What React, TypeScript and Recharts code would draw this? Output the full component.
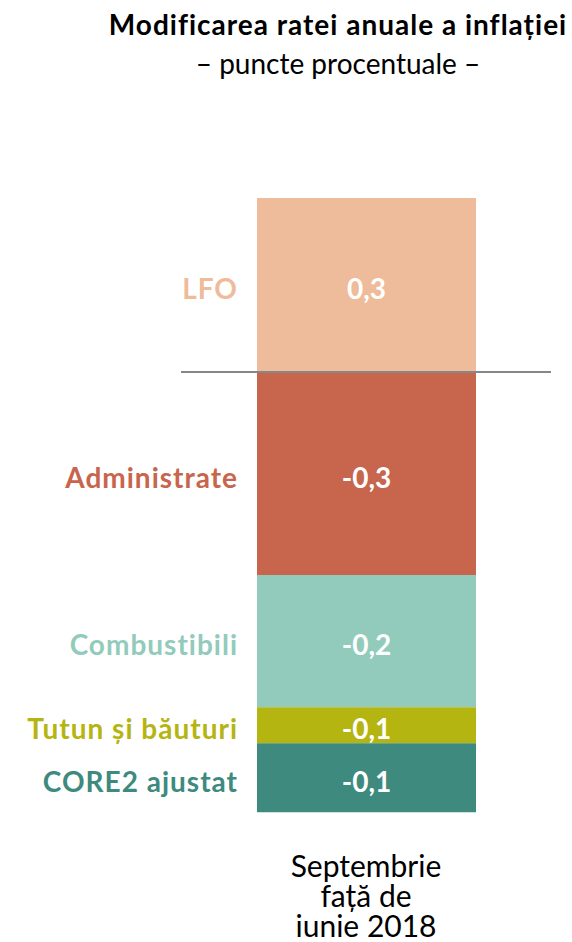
import { Bar, BarChart, LabelList, ReferenceLine, XAxis, YAxis } from "recharts";

const categories = ["Septembrie|față de|iunie 2018"];
const seriesNames = ["LFO", "Administrate", "Combustibili", "Tutun și băuturi", "CORE2 ajustat"];
const seriesValues = [0.3, -0.35, -0.228, -0.062, -0.119];
const valueLabels = ["0,3", "-0,3", "-0,2", "-0,1", "-0,1"];
const seriesColors = ["#EEBC9A", "#C8654D", "#92CBBB", "#B5B512", "#3E8A7E"];

const FONT = "Lato, 'Open Sans', sans-serif";

const data = categories.map((c) => {
  const row: Record<string, string | number> = { name: c };
  seriesNames.forEach((s, i) => {
    row[s] = seriesValues[i];
  });
  return row;
});

const CategoryTick = (props: any) => {
  const { x, y, payload } = props;
  const lines = String(payload.value).split("|");
  return (
    <text x={x} y={y} textAnchor="middle" fill="#000" fontFamily={FONT} fontSize={30}>
      {lines.map((l, i) => (
        <tspan key={i} x={x} dy={i === 0 ? 33 : 30}>
          {l}
        </tspan>
      ))}
    </text>
  );
};

const makeLabel = (i: number) => (props: any) => {
  const { x, y, width, height } = props;
  const cy = y + height / 2 + 14;
  return (
    <g>
      <text x={x + width / 2} y={cy} textAnchor="middle" fill="#fff" fontFamily={FONT} fontWeight={700} fontSize={28}>
        {valueLabels[i]}
      </text>
      <text
        x={x - 19}
        y={cy}
        textAnchor="end"
        fill={seriesColors[i]}
        fontFamily={FONT}
        fontWeight={700}
        fontSize={28}
        letterSpacing={1}
      >
        {seriesNames[i]}
      </text>
    </g>
  );
};

const App = () => {
  return (
    <div style={{ position: "relative", width: 572, height: 942, background: "#fff", fontFamily: FONT, overflow: "hidden" }}>
      <style>{`body{margin:0}`}</style>
      <div
        style={{
          position: "absolute",
          left: 338,
          top: 10,
          transform: "translateX(-50%)",
          whiteSpace: "nowrap",
          fontSize: 28,
          lineHeight: "28px",
          fontWeight: 700,
          letterSpacing: 1,
          color: "#000",
        }}
      >
        Modificarea ratei anuale a inflației
      </div>
      <div
        style={{
          position: "absolute",
          left: 338,
          top: 49,
          transform: "translateX(-50%)",
          whiteSpace: "nowrap",
          fontSize: 28,
          lineHeight: "28px",
          color: "#000",
        }}
      >
        – puncte procentuale –
      </div>
      <BarChart
        width={572}
        height={942}
        data={data}
        stackOffset="sign"
        margin={{ top: 140, right: 21, bottom: 0, left: 181 }}
      >
        <XAxis
          dataKey="name"
          axisLine={false}
          tickLine={false}
          height={106}
          interval={0}
          tick={<CategoryTick />}
        />
        <YAxis hide domain={[-0.8, 0.4]} allowDataOverflow />
        {seriesNames.map((s, i) => (
          <Bar key={s} dataKey={s} stackId="a" fill={seriesColors[i]} barSize={219} isAnimationActive={false}>
            <LabelList dataKey={s} content={makeLabel(i)} />
          </Bar>
        ))}
        <ReferenceLine y={0} stroke="#878787" strokeWidth={2} />
      </BarChart>
    </div>
  );
};

export default App;
